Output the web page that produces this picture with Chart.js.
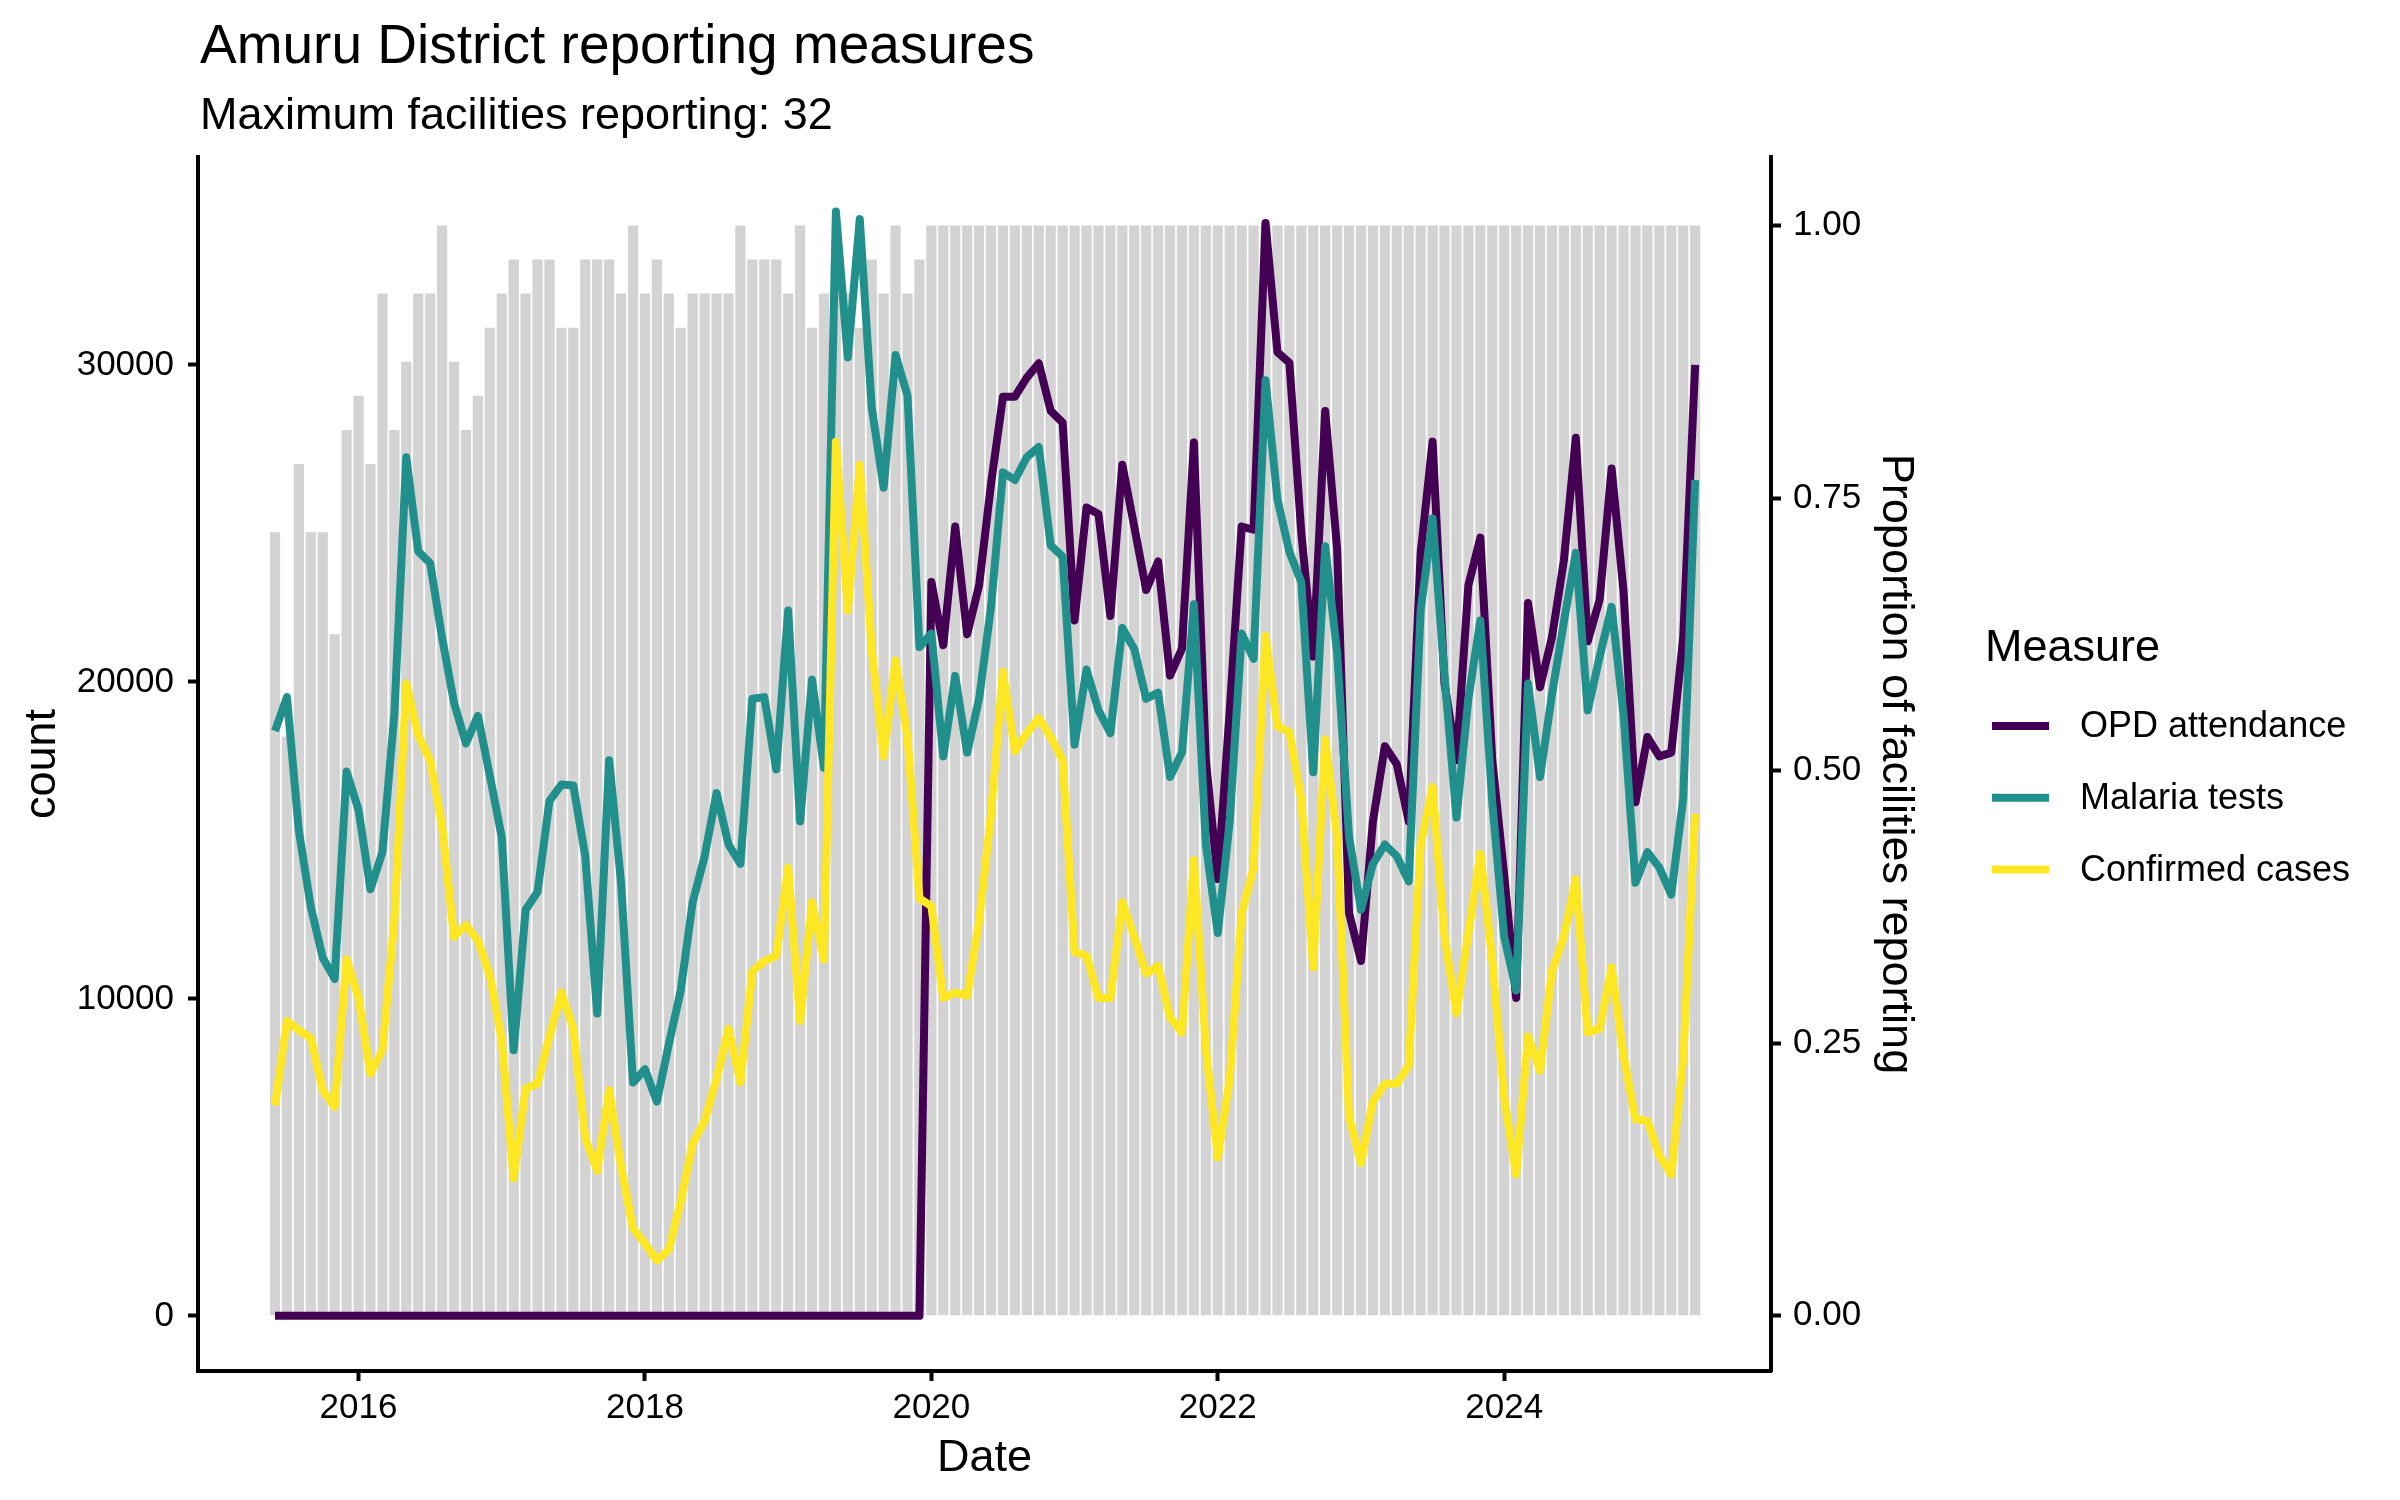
<!DOCTYPE html>
<html lang="en">
  <head>
    <meta charset="UTF-8" />
    <title>Amuru District reporting measures</title>
    <script src="https://cdn.jsdelivr.net/npm/chart.js"></script>
    <style>
      body { margin: 0; background: #fff; }
      canvas { display: block; }
    </style>
  </head>
  <body>
    <canvas id="myChart" width="2400" height="1500" style="width:2400px;height:1500px"></canvas>
    <script>
      // monthly values, Jun 2015 .. May 2025
      const months = [
        "2015-06","2015-07","2015-08","2015-09","2015-10","2015-11","2015-12",
        "2016-01","2016-02","2016-03","2016-04","2016-05","2016-06","2016-07","2016-08","2016-09","2016-10","2016-11","2016-12",
        "2017-01","2017-02","2017-03","2017-04","2017-05","2017-06","2017-07","2017-08","2017-09","2017-10","2017-11","2017-12",
        "2018-01","2018-02","2018-03","2018-04","2018-05","2018-06","2018-07","2018-08","2018-09","2018-10","2018-11","2018-12",
        "2019-01","2019-02","2019-03","2019-04","2019-05","2019-06","2019-07","2019-08","2019-09","2019-10","2019-11","2019-12",
        "2020-01","2020-02","2020-03","2020-04","2020-05","2020-06","2020-07","2020-08","2020-09","2020-10","2020-11","2020-12",
        "2021-01","2021-02","2021-03","2021-04","2021-05","2021-06","2021-07","2021-08","2021-09","2021-10","2021-11","2021-12",
        "2022-01","2022-02","2022-03","2022-04","2022-05","2022-06","2022-07","2022-08","2022-09","2022-10","2022-11","2022-12",
        "2023-01","2023-02","2023-03","2023-04","2023-05","2023-06","2023-07","2023-08","2023-09","2023-10","2023-11","2023-12",
        "2024-01","2024-02","2024-03","2024-04","2024-05","2024-06","2024-07","2024-08","2024-09","2024-10","2024-11","2024-12",
        "2025-01","2025-02","2025-03","2025-04","2025-05"
      ];

      const maxFacilities = 32;
      const facilitiesReporting = [
        23,17,25,23,23,20,26,
        27,25,30,26,28,30,30,32,28,26,27,29,
        30,31,30,31,31,29,29,31,31,31,30,32,
        30,31,30,29,30,30,30,30,32,31,31,31,
        30,32,29,30,31,30,29,31,30,32,30,31,
        32,32,32,32,32,32,32,32,32,32,32,32,
        32,32,32,32,32,32,32,32,32,32,32,32,
        32,32,32,32,32,32,32,32,32,32,32,32,
        32,32,32,32,32,32,32,32,32,32,32,32,
        32,32,32,32,32,32,32,32,32,32,32,32,
        32,32,32,32,32
      ];

      const opdAttendance = [
        0,0,0,0,0,0,0,
        0,0,0,0,0,0,0,0,0,0,0,0,
        0,0,0,0,0,0,0,0,0,0,0,0,
        0,0,0,0,0,0,0,0,0,0,0,0,
        0,0,0,0,0,0,0,0,0,0,0,0,
        23150,21160,24900,21500,23050,26250,29000,29000,29600,30050,28550,28180,
        21940,25500,25300,22080,26850,24900,22900,23800,20200,21050,27550,17530,
        13780,19100,24900,24800,34480,30400,30070,24700,20800,28550,24200,12700,
        11200,15600,17970,17400,15600,24070,27580,19950,17530,23050,24550,17530,
        13900,10030,22490,19830,21400,23830,27700,21280,22600,26730,22860,16200,
        18260,17650,17770,21400,30000
      ];

      const malariaTests = [
        18450,19520,15300,12900,11300,10630,17170,
        15960,13460,14630,18980,27090,24120,23750,21400,19350,18060,18930,17050,
        15110,8380,12810,13370,16250,16760,16730,14500,9540,17530,13660,7360,
        7780,6760,8570,10270,13050,14500,16490,14870,14260,19470,19520,17240,
        22250,15600,20070,17290,34840,30240,34600,28670,26130,30310,29030,21100,
        21530,17650,20190,17770,19470,22370,26610,26370,27090,27410,24310,23950,
        18020,20390,19110,18380,21700,21040,19470,19660,17000,17770,22450,14870,
        12080,15600,21530,20730,29520,25760,24100,23150,17150,24280,20920,15110,
        12810,14260,14870,14500,13710,22250,25160,20190,15720,19470,21940,16200,
        11960,10270,19950,17000,19590,21890,24070,19100,20800,22370,18980,13660,
        14630,14140,13290,16320,26370
      ];

      const confirmedCases = [
        6640,9300,9010,8770,7120,6590,11240,
        10030,7650,8380,12450,19950,18310,17530,15470,11960,12330,11840,10750,
        8700,4340,7170,7320,8820,10200,9060,5600,4580,7120,4700,2760,
        2280,1750,2090,3610,5430,6150,7480,9060,7360,10870,11190,11360,
        14140,9300,13050,11240,27580,22250,26850,21040,17650,20680,18260,13170,
        12930,10030,10200,10100,12450,15840,20320,17820,18380,18860,18260,17530,
        11480,11360,10030,10030,13050,11960,10800,11040,9420,8940,14380,8450,
        4990,7480,12690,14140,21450,18600,18420,16300,10990,18180,15110,6270,
        4820,6760,7320,7320,7900,14870,16680,11960,9540,12080,14580,11240,
        6880,4460,8820,7730,10870,11960,13780,8940,9060,10990,8210,6200,
        6150,5060,4460,8090,15840
      ];

      const dateTicks = [2016, 2018, 2020, 2022, 2024];
      const countTicks = [0, 10000, 20000, 30000];
      const proportionTicks = [0, 0.25, 0.5, 0.75, 1];

      const FONT = '"Liberation Sans", Arial, Helvetica, sans-serif';

      // month string -> decimal year
      const toYear = (m) => {
        const [y, mo] = m.split("-").map(Number);
        return y + (mo - 1) / 12;
      };
      const points = (values) => months.map((m, i) => ({ x: toYear(m), y: values[i] }));

      // title + subtitle + legend drawn on the canvas
      const decorations = {
        id: "decorations",
        afterDraw(chart) {
          const ctx = chart.ctx;
          ctx.save();
          ctx.fillStyle = "#000";
          ctx.textBaseline = "alphabetic";
          ctx.textAlign = "left";
          ctx.font = "55px " + FONT;
          ctx.fillText("Amuru District reporting measures", 200, 63);
          ctx.font = "45px " + FONT;
          ctx.fillText("Maximum facilities reporting: " + maxFacilities, 200, 129);

          // legend
          ctx.font = "45px " + FONT;
          ctx.fillText("Measure", 1985, 661);
          const lines = chart.data.datasets.filter((d) => d.type === "line");
          ctx.font = "36px " + FONT;
          ctx.textBaseline = "middle";
          lines.forEach((d, k) => {
            const y = 726 + k * 71.8;
            ctx.strokeStyle = d.borderColor;
            ctx.lineWidth = 8;
            ctx.beginPath();
            ctx.moveTo(1992, y);
            ctx.lineTo(2049, y);
            ctx.stroke();
            ctx.fillStyle = "#000";
            ctx.fillText(d.label, 2080, y + 1);
          });
          ctx.restore();
        },
      };

      const axisLine = { display: true, color: "#000", width: 4 };
      const tickMarks = {
        display: true,
        drawOnChartArea: false,
        drawTicks: true,
        tickLength: 10,
        tickWidth: 4,
        tickColor: "#000",
        color: "#000",
        offset: false,
      };

      const config = {
        type: "line",
        data: {
          datasets: [
            {
              type: "line",
              label: "OPD attendance",
              data: points(opdAttendance),
              borderColor: "#440154",
              backgroundColor: "#440154",
              borderWidth: 8,
              pointRadius: 0,
              tension: 0,
              borderJoinStyle: "round",
              yAxisID: "y",
              order: 3,
            },
            {
              type: "line",
              label: "Malaria tests",
              data: points(malariaTests),
              borderColor: "#21908C",
              backgroundColor: "#21908C",
              borderWidth: 8,
              pointRadius: 0,
              tension: 0,
              borderJoinStyle: "round",
              yAxisID: "y",
              order: 2,
            },
            {
              type: "line",
              label: "Confirmed cases",
              data: points(confirmedCases),
              borderColor: "#FDE725",
              backgroundColor: "#FDE725",
              borderWidth: 8,
              pointRadius: 0,
              tension: 0,
              borderJoinStyle: "round",
              yAxisID: "y",
              order: 1,
            },
            {
              type: "bar",
              label: "Proportion of facilities reporting",
              data: months.map((m, i) => ({ x: toYear(m), y: facilitiesReporting[i] / maxFacilities })),
              backgroundColor: "#D3D3D3",
              borderWidth: 0,
              barPercentage: 1,
              categoryPercentage: 0.86,
              yAxisID: "y1",
              order: 4,
            },
          ],
        },
        options: {
          responsive: false,
          devicePixelRatio: 1,
          animation: false,
          layout: { padding: { top: 157, right: 429, bottom: 0, left: 0 } },
          plugins: {
            legend: { display: false },
            tooltip: { enabled: false },
            title: { display: false },
          },
          scales: {
            x: {
              type: "linear",
              position: "bottom",
              min: 2014.879,
              max: 2025.863,
              offset: false,
              grid: tickMarks,
              border: axisLine,
              afterBuildTicks: (s) => { s.ticks = dateTicks.map((v) => ({ value: v })); },
              afterFit: (s) => { s.height = 129; },
              ticks: {
                color: "#000",
                font: { family: FONT, size: 35 },
                padding: 6,
                maxRotation: 0,
                callback: (v) => String(v),
              },
              title: {
                display: true,
                text: "Date",
                color: "#000",
                font: { family: FONT, size: 45 },
                padding: { top: 0, bottom: 14 },
              },
            },
            y: {
              type: "linear",
              position: "left",
              min: -1740,
              max: 36560,
              grid: tickMarks,
              border: axisLine,
              afterBuildTicks: (s) => { s.ticks = countTicks.map((v) => ({ value: v })); },
              afterFit: (s) => { s.width = 198; },
              ticks: {
                color: "#000",
                font: { family: FONT, size: 35 },
                padding: 14,
                callback: (v) => String(v),
              },
              title: {
                display: true,
                text: "count",
                color: "#000",
                font: { family: FONT, size: 45 },
                padding: { top: 16, bottom: 0 },
              },
            },
            y1: {
              type: "linear",
              position: "right",
              min: -0.0506,
              max: 1.0628,
              grid: tickMarks,
              border: axisLine,
              afterBuildTicks: (s) => { s.ticks = proportionTicks.map((v) => ({ value: v })); },
              afterFit: (s) => { s.width = 200; },
              ticks: {
                color: "#000",
                font: { family: FONT, size: 35 },
                padding: 12,
                callback: (v) => v.toFixed(2),
              },
              title: {
                display: true,
                text: "Proportion of facilities reporting",
                color: "#000",
                font: { family: FONT, size: 45 },
                padding: { top: 49, bottom: 0 },
              },
            },
          },
        },
        plugins: [decorations],
      };

      const myChart = new Chart(document.getElementById("myChart"), config);
    </script>
  </body>
</html>
